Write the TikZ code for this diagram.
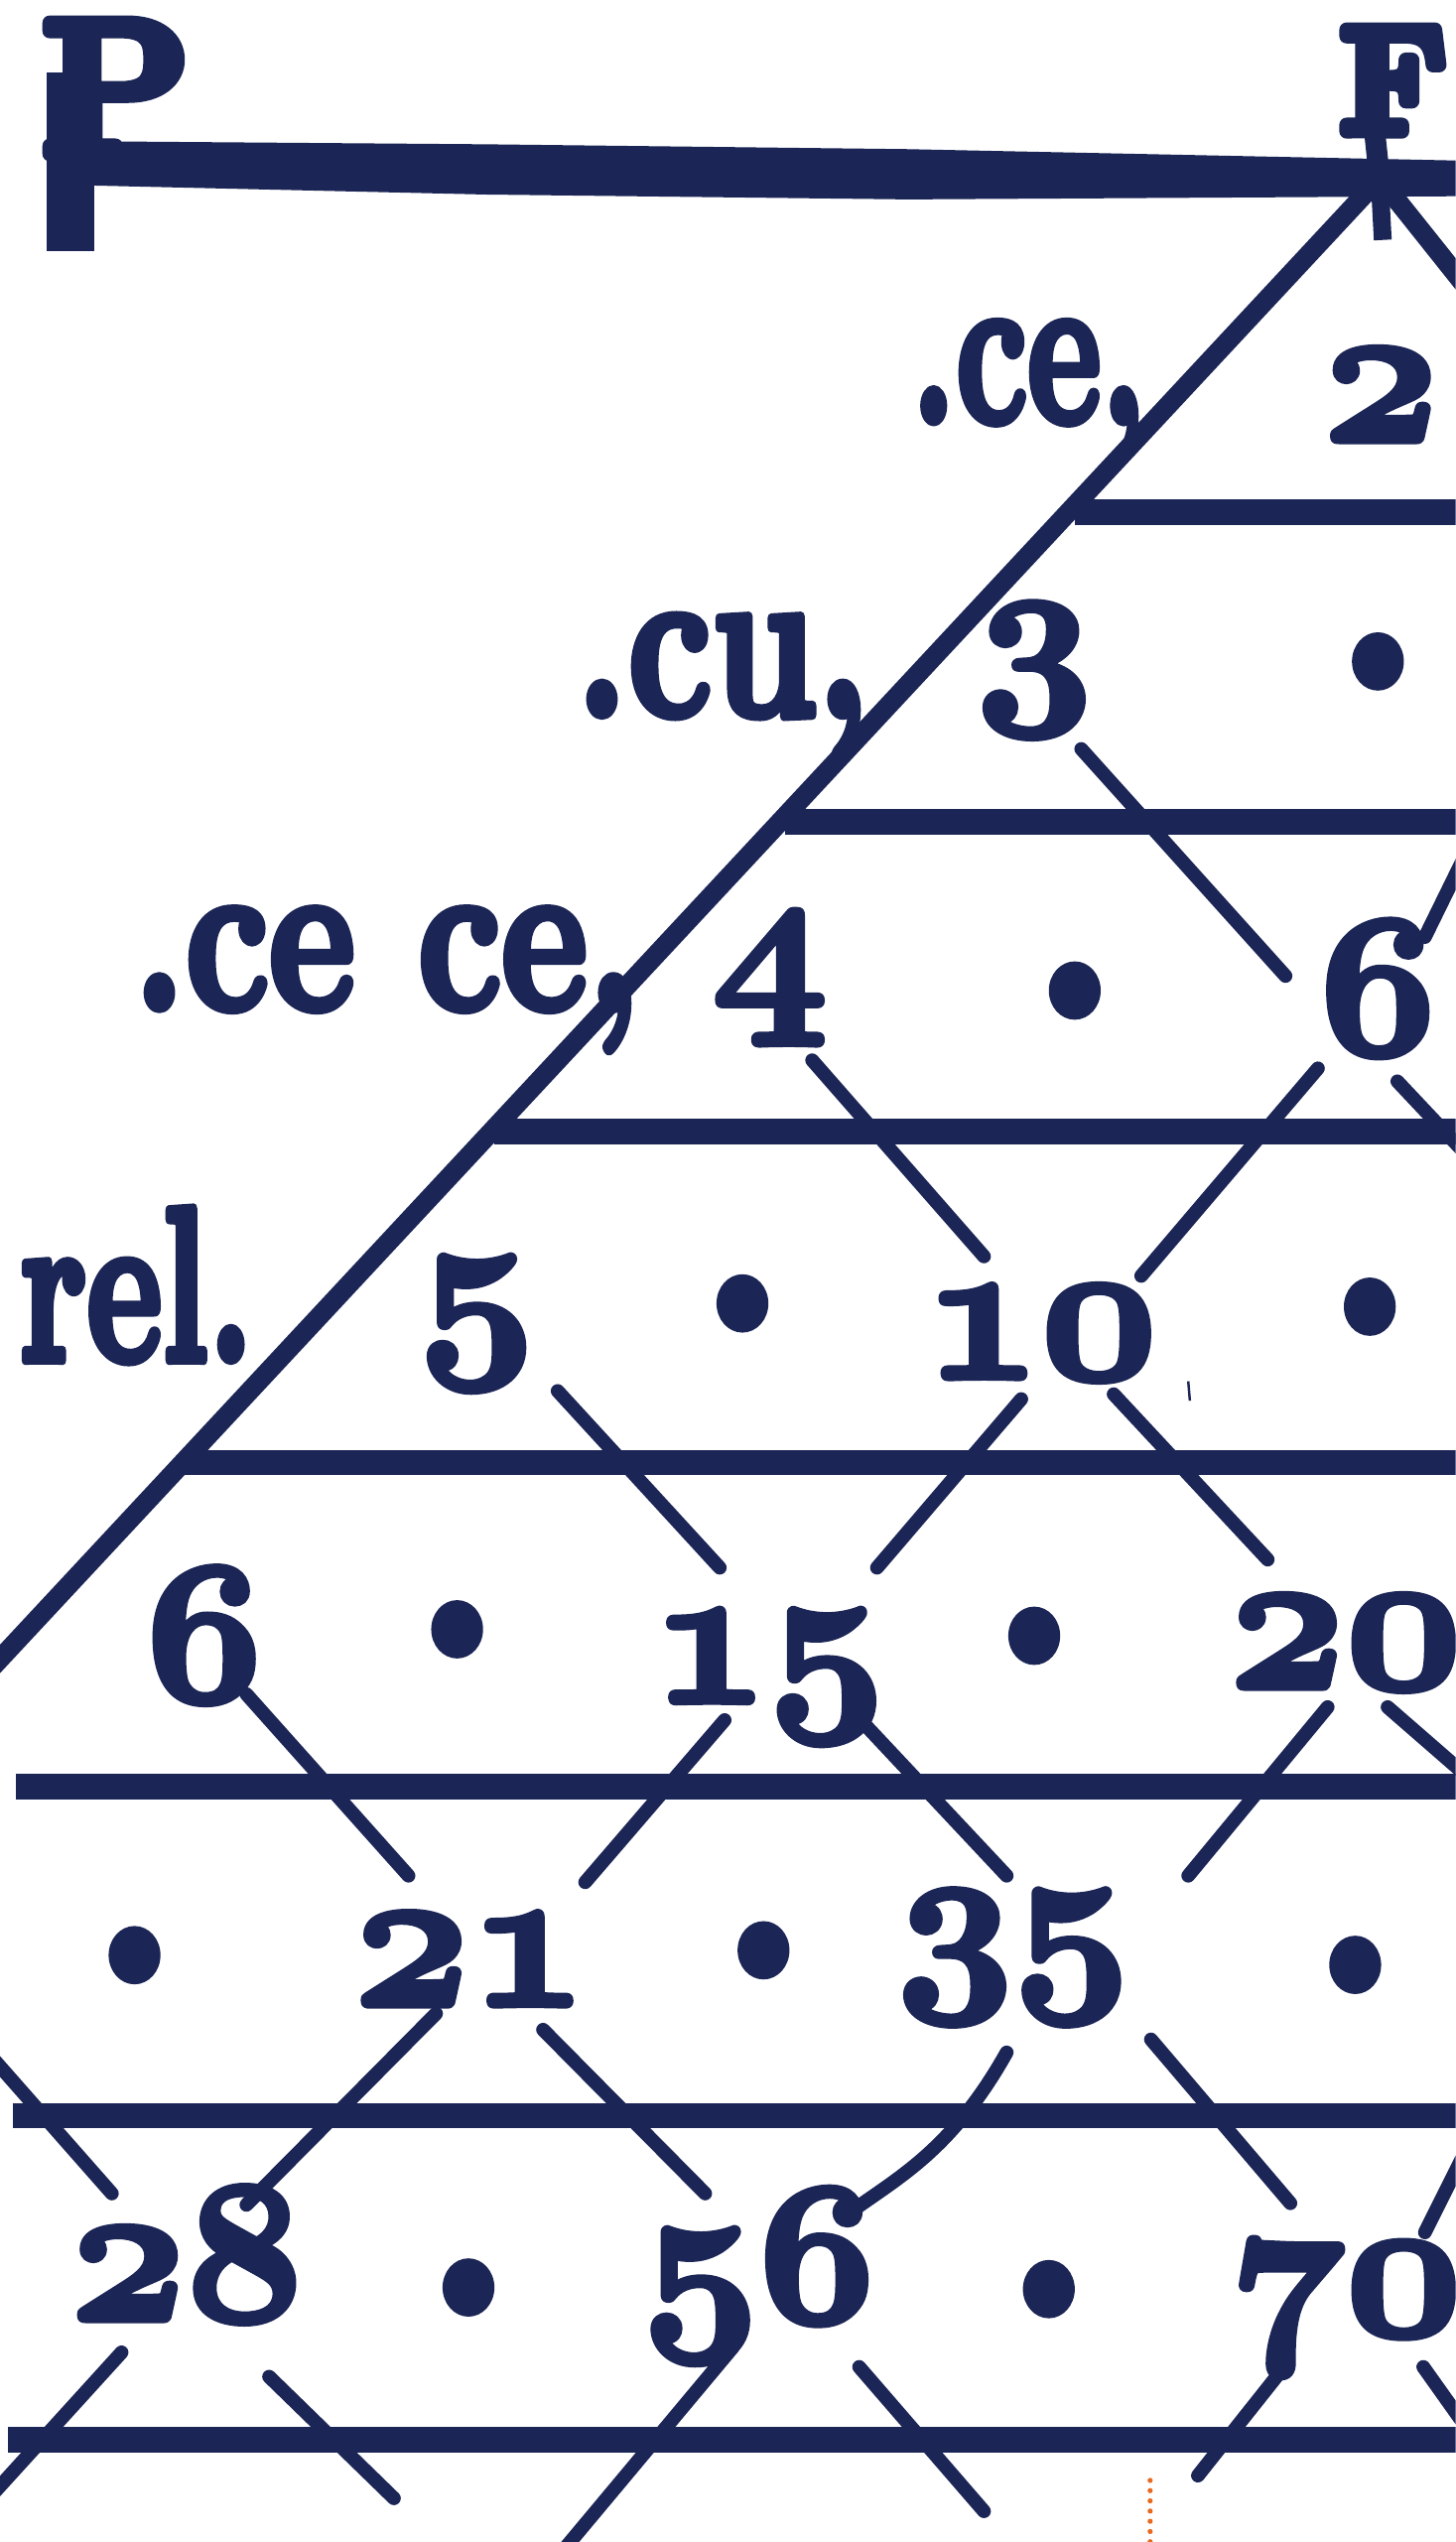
\documentclass[tikz,border=0pt]{standalone}
\usepackage{graphicx}
\DeclareFontFamily{OML}{oscm}{\skewchar\font=127 }
\DeclareFontShape{OML}{oscm}{b}{it}{<->cmmib10}{}
\newcommand\osnum{\fontencoding{OML}\fontfamily{oscm}\fontseries{b}\fontshape{it}\fontsize{125}{125}\selectfont}
\newcommand\lblfont{\fontsize{135}{135}\selectfont\bfseries}
\newcommand\heavy[2]{\special{pdf:literal direct 1 j 1 J #1 w 2 Tr}#2\special{pdf:literal direct 0 Tr}}
\definecolor{ink}{RGB}{28,38,86}
\definecolor{dotorange}{RGB}{233,105,30}
\begin{document}
\begin{tikzpicture}[x=1pt,y=-1pt,
  hline/.style={draw=ink,line width=15.5pt},
  diag/.style={draw=ink,line width=12pt,line cap=round},
  tick/.style={draw=ink,line width=8.5pt,line cap=round},
  num/.style={anchor=base,inner sep=0pt,text=ink,font=\osnum},
  lbl/.style={anchor=base west,inner sep=0pt,text=ink,font=\lblfont},
  blob/.style={fill=ink,draw=none}]
\fill[white] (0,0) rectangle (898,1568);
\useasboundingbox (0,0) rectangle (898,1568);
\clip (0,0) rectangle (898,1568);

% top line with its letters
\fill[ink] (38,87) -- (300,89) -- (560,92) -- (898,99) -- (905,99) -- (905,121) -- (560,123) -- (300,120) -- (38,114) -- cycle;
\fill[ink] (29,45) rectangle (58,155);
\node[lbl,font=\fontsize{118}{118}\selectfont\bfseries] (P) at (26,95) {\heavy{9}{P}};
\node[lbl,font=\fontsize{92}{92}\selectfont\bfseries] (F) at (827,81) {\heavy{9}{F}};
\coordinate (apex) at (851,110);
\coordinate (neck) at (847,72);
\coordinate (drip) at (853,148);
\coordinate (lend) at (-10,1034);
\coordinate (rend) at (910,184);
\draw[draw=ink,line width=13pt] (neck) -- (apex);
\draw[draw=ink,line width=11pt] (apex) -- (drip);
\draw[diag] (apex) -- (lend);
\draw[diag] (apex) -- (rend);

% horizontal rules
\draw[hline] (663,316) -- (905,316);
\draw[hline] (484,507) -- (905,507);
\draw[hline] (305,698) -- (905,698);
\draw[hline] (114,902) -- (905,902);
\draw[hline] (10,1102) -- (905,1102);
\draw[hline] (8,1305) -- (905,1305);
\draw[hline] (5,1505) -- (905,1505);

% labels on the left
\node[lbl] (ce) at (562,260) {\scalebox{0.654}[1]{\heavy{6}{.ce,}}};
\node[lbl] (cu) at (355,441) {\scalebox{0.766}[1]{\heavy{6}{.cu,}}};
\node[lbl] (cece) at (82,622) {\scalebox{0.765}[1]{\heavy{6}{.ce ce,}}};
\node[lbl] (rel) at (12,839) {\scalebox{0.669}[1]{\heavy{6}{rel.}}};

% numbers
\node[num] (n2) at (852,272) {\heavy{4}{2}};
\node[num] (n3) at (638,429) {\heavy{4}{3}};
\node[num] (n4) at (475,620) {\heavy{4}{4}};
\node[num] (n6a) at (850,650) {\heavy{4}{6}};
\node[num] (n5) at (294,832) {\heavy{4}{5}};
\node[num] (n10) at (642,850) {\heavy{4}{10}};
\node[num] (n6b) at (126,1049) {\heavy{4}{6}};
\node[num] (n15) at (474,1050) {\heavy{4}{15}};
\node[num] (n20) at (830,1041) {\heavy{4}{20}};
\node[num] (n21) at (290,1237) {\heavy{4}{21}};
\node[num] (n35) at (625,1223) {\heavy{4}{35}};
\node[num] (n28) at (115,1431) {\heavy{4}{28}};
\node[num] (n56) at (468,1432) {\heavy{4}{56}};
\node[num] (n70) at (830,1440) {\heavy{4}{70}};

% dots between numbers
\foreach \p in {(850,408),(663,611),(458,804),(845,806),(282,1005),(638,1009),(83,1206),(471,1203),(836,1212),(289,1411),(647,1412)}
  \fill[blob] \p ellipse [x radius=16pt, y radius=18pt];

% crossing strokes
\draw[tick] (667,462) -- (793,602);
\draw[tick] (905,525) -- (879,578);
\draw[tick] (501,654) -- (607,775);
\draw[tick] (813,659) -- (704,787);
\draw[tick] (862,667) -- (910,718);
\draw[tick] (344,858) -- (444,967);
\draw[tick] (630,863) -- (541,967);
\draw[tick] (687,860) -- (782,962);
\draw[tick] (152,1045) -- (252,1157);
\draw[tick] (447,1061) -- (361,1161);
\draw[tick] (530,1060) -- (621,1157);
\draw[tick] (819,1053) -- (733,1157);
\draw[tick] (856,1053) -- (910,1100);
\draw[tick] (-5,1269) -- (69,1353);
\draw[tick] (269,1242) -- (152,1360);
\draw[tick] (335,1252) -- (435,1353);
\draw[tick] (621,1266) .. controls (585,1330) and (550,1345) .. (520,1368);
\draw[tick] (710,1258) -- (796,1359);
\draw[tick] (905,1325) -- (879,1377);
\draw[tick] (75,1451) -- (-5,1539);
\draw[tick] (166,1466) -- (243,1541);
\draw[tick] (452,1448) -- (345,1576);
\draw[tick] (530,1460) -- (607,1549);
\draw[tick] (793,1459) -- (739,1527);
\draw[tick] (878,1460) -- (910,1505);
\draw[draw=ink,line width=1.5pt] (733,852) -- (734,864);

% orange dotted mark at the bottom
\draw[dotorange,line width=3.2pt,line cap=round,dash pattern=on 0pt off 6.3pt] (709.5,1530) -- (709.5,1576);
\end{tikzpicture}
\end{document}
